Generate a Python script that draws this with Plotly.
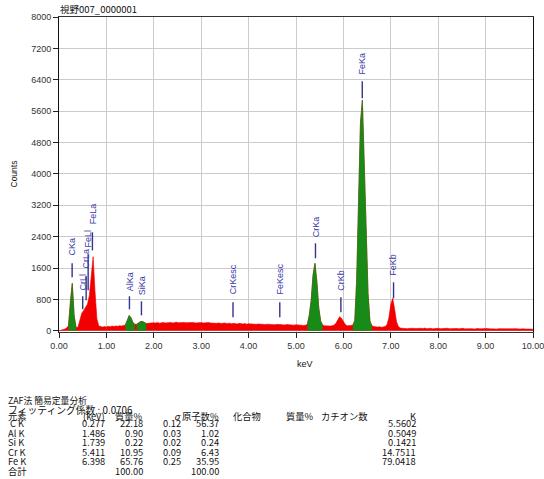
import numpy as np
import plotly.graph_objects as go

# ---------------------------------------------------------------- data
# channel energies (keV), 0.04 keV per channel
energy_kev = np.round(np.arange(251) * 0.04, 2)

# counts per channel, 10 channels per row
counts = [
    0, 10, 30, 45, 70, 130, 760, 1210, 380, 90,            # 0.00-0.36
    90, 260, 450, 515, 590, 680, 900, 1400, 1890, 1000,    # 0.40-0.76
    300, 125, 100, 95, 110, 100, 115, 105, 120, 110,       # 0.80-1.16
    125, 115, 130, 120, 135, 150, 260, 390, 330, 210,      # 1.20-1.56
    165, 170, 200, 235, 240, 210, 185, 190, 200, 195,      # 1.60-1.96
    205, 200, 210, 195, 205, 215, 200, 210, 205, 215,      # 2.00-2.36
    200, 210, 220, 205, 210, 200, 215, 205, 210, 200,      # 2.40-2.76
    205, 215, 200, 205, 195, 210, 200, 205, 195, 210,      # 2.80-3.16
    200, 195, 205, 190, 200, 195, 185, 200, 190, 185,      # 3.20-3.56
    195, 180, 190, 185, 175, 190, 180, 175, 185, 170,      # 3.60-3.96
    180, 175, 170, 180, 165, 175, 170, 165, 175, 160,      # 4.00-4.36
    170, 165, 160, 170, 155, 165, 160, 155, 165, 150,      # 4.40-4.76
    160, 155, 150, 160, 145, 155, 150, 140, 150, 135,      # 4.80-5.16
    145, 170, 400, 780, 1420, 1720, 1260, 590, 250, 150,   # 5.20-5.56
    130, 125, 135, 120, 130, 140, 190, 280, 360, 320,      # 5.60-5.96
    220, 160, 130, 125, 135, 150, 260, 1300, 3200, 5300,   # 6.00-6.36
    5880, 4300, 2500, 950, 250, 130, 110, 100, 95, 105,    # 6.40-6.76
    90, 100, 110, 160, 340, 680, 830, 560, 240, 110,       # 6.80-7.16
    75, 65, 60, 70, 55, 65, 60, 70, 55, 60,                # 7.20-7.56
    65, 55, 60, 70, 55, 60, 65, 50, 60, 55,                # 7.60-7.96
    65, 55, 60, 50, 60, 65, 55, 60, 50, 55,                # 8.00-8.36
    60, 50, 55, 65, 50, 55, 60, 50, 55, 45,                # 8.40-8.76
    55, 60, 50, 55, 45, 55, 60, 50, 45, 55,                # 8.80-9.16
    50, 45, 55, 50, 60, 45, 50, 55, 45, 50,                # 9.20-9.56
    55, 45, 50, 45, 55, 50, 45, 50, 55, 45,                # 9.60-9.96
    40,                                                    # 10.00
]

# fitted peak windows (keV) shown in green
fit_windows = [(0.20, 0.36), (1.40, 1.60), (1.64, 1.84), (5.24, 5.56), (6.20, 6.60)]

# identified lines
peak_names = ["CKa", "CrLl", "CrLa", "FeLl", "FeLa", "AlKa", "SiKa",
              "CrKesc", "FeKesc", "CrKa", "CrKb", "FeKa", "FeKb"]
peak_kev = [0.277, 0.500, 0.573, 0.615, 0.705, 1.486, 1.739,
            3.671, 4.658, 5.411, 5.947, 6.398, 7.058]
# marker placement (counts): tick bottom, tick top, label base
marker_low = [1364, 548, 778, 1033, 2050, 548, 395, 344, 344, 1849, 472, 5930, 829]
marker_high = [1721, 880, 1390, 1950, 2510, 880, 752, 727, 727, 2231, 854, 6362, 1237]
label_base = [1900, 1007, 1568, 2104, 2690, 982, 880, 905, 905, 2359, 1007, 6515, 1364]

# quantitative result table
title_text = "視野007_0000001"
method_text = "ZAF法 簡易定量分析"
fitting_coef = "0.0706"
tbl_element = [" C K", "Al K", "Si K", "Cr K", "Fe K"]
tbl_kev = ["0.277", "1.486", "1.739", "5.411", "6.398"]
tbl_mass = ["22.18", "0.90", "0.22", "10.95", "65.76"]
tbl_sigma = ["0.12", "0.03", "0.02", "0.09", "0.25"]
tbl_atom = ["56.37", "1.02", "0.24", "6.43", "35.95"]
tbl_k = ["5.5602", "0.5049", "0.1421", "14.7511", "79.0418"]
tbl_total_label = "合計"
tbl_mass_total = "100.00"
tbl_atom_total = "100.00"

# ---------------------------------------------------------------- layout
W, H = 544, 479
L, R, T, B = 59, 11, 17, 147
RED = "#f20000"
GREEN = "#178a17"
LABEL_BLUE = "#3a3aa6"
LINE_BLUE = "#34348c"
SANS = "Liberation Sans, Arial, sans-serif"
JP = "Noto Sans CJK JP, sans-serif"


def px(x):
    return (x - L) / (W - L - R)


def py(y):
    return (H - B - y) / (H - T - B)


fig = go.Figure()

fig.add_trace(go.Scatter(
    x=energy_kev, y=counts, mode="lines", fill="tozeroy",
    line=dict(color=RED, width=0.6), fillcolor=RED, hoverinfo="skip",
))

e_arr = np.asarray(energy_kev)
c_arr = np.asarray(counts)
for lo, hi in fit_windows:
    m = (e_arr >= lo - 1e-9) & (e_arr <= hi + 1e-9)
    fig.add_trace(go.Scatter(
        x=e_arr[m], y=c_arr[m], mode="lines", fill="tozeroy",
        line=dict(color=GREEN, width=0.6), fillcolor=GREEN, hoverinfo="skip",
    ))

shapes = []
annotations = []
for name, e, lo, hi, base in zip(peak_names, peak_kev, marker_low, marker_high, label_base):
    shapes.append(dict(type="line", xref="x", yref="y", x0=e, x1=e, y0=lo, y1=hi,
                       line=dict(color=LINE_BLUE, width=1.4)))
    annotations.append(dict(xref="x", yref="y", x=e, y=base, text=name, textangle=-90,
                            showarrow=False, xanchor="center", yanchor="bottom",
                            borderpad=0, font=dict(family=SANS, size=9, color=LABEL_BLUE)))


def note(text, x, y, anchor="left", size=9.3, family=JP, angle=0):
    annotations.append(dict(xref="paper", yref="paper", x=px(x), y=py(y), text=text,
                            showarrow=False, xanchor=anchor, yanchor="middle",
                            textangle=angle, borderpad=0,
                            font=dict(family=family, size=size, color="#111111")))


note(title_text, 59, 9, size=9.5)
note("Counts", 13.5, 174, anchor="center", size=8.5, family=SANS, angle=-90)
note("keV", 305, 363.5, anchor="center", size=9, family=SANS)

note(method_text, 7, 400.5, size=8.8)
note("フィッティング係数 : " + fitting_coef, 7, 409.5, size=9.8)

head_y = 416
note("元素", 7, head_y)
note("(keV)", 106, head_y, anchor="right")
note("質量%", 144, head_y, anchor="right")
note("<i>σ</i>", 182, head_y, anchor="right")
note("原子数%", 220, head_y, anchor="right")
note("化合物", 232, head_y)
note("質量%", 285, head_y)
note("カチオン数", 320, head_y)
note("K", 417, head_y, anchor="right")

row_y = [423, 432.5, 442, 451.5, 461]
for i, y in enumerate(row_y):
    note(tbl_element[i], 7, y)
    note(tbl_kev[i], 106, y, anchor="right")
    note(tbl_mass[i], 144, y, anchor="right")
    note(tbl_sigma[i], 182, y, anchor="right")
    note(tbl_atom[i], 220, y, anchor="right")
    note(tbl_k[i], 417, y, anchor="right")
note(tbl_total_label, 7, 470.5)
note(tbl_mass_total, 144, 470.5, anchor="right")
note(tbl_atom_total, 220, 470.5, anchor="right")

axis_common = dict(showgrid=True, gridcolor="#cccccc", gridwidth=1,
                   showline=True, mirror=True, ticks="outside", ticklen=5,
                   tickcolor="#222222", zeroline=False, automargin=False,
                   ticklabeloverflow="allow",
                   tickfont=dict(family=SANS, size=9, color="#333333"))

fig.update_layout(
    width=W, height=H,
    margin=dict(l=L, r=R, t=T, b=B, pad=0, autoexpand=False),
    paper_bgcolor="white", plot_bgcolor="white",
    showlegend=False,
    shapes=shapes,
    annotations=annotations,
    xaxis=dict(range=[0, 10], tickvals=list(range(11)), tickformat=".2f",
               linecolor="#333333", **axis_common),
    yaxis=dict(range=[-30, 8000], dtick=800, tick0=0,
               linecolor="#111111", **axis_common),
)

fig.write_html("out.html")
